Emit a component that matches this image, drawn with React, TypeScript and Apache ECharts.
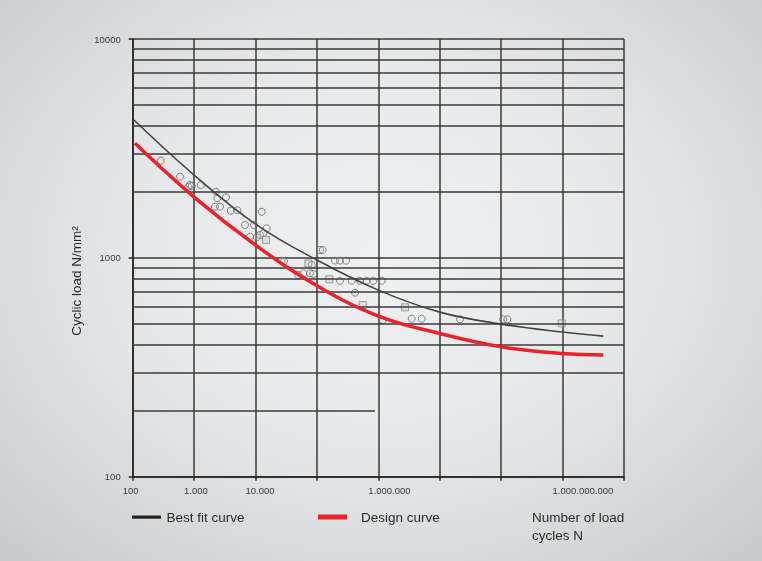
import React, { useEffect, useRef } from "react";
import * as echarts from "echarts";

// Axis ticks / labels
const xLabelValues = [100, 1000, 10000, 1000000, 1000000000];
const xLabelTexts = ["100", "1.000", "10.000", "1.000.000", "1.000.000.000"];
const yLabelValues = [100, 1000, 10000];
const yLabelTexts = ["100", "1000", "10000"];
const minorGridLoads = [300, 400, 500, 600, 700, 800, 900, 2000, 3000, 4000, 5000, 6000, 7000, 8000, 9000];
const partialGridLoad = 200;
const partialGridEndN = 880000;

// Best fit curve
const bestFitN = [105, 1000, 10000, 100000, 1000000, 10000000, 100000000, 1000000000, 4600000000];
const bestFitLoad = [4264, 2390, 1427, 977, 712, 565, 498, 458, 439];

// Design curve
const designN = [109, 1000, 10000, 100000, 1000000, 10000000, 100000000, 1000000000, 4600000000];
const designLoad = [3337, 1896, 1144, 746, 542, 451, 392, 366, 360];

// Test results (circles)
const circleN = [286, 589, 804, 857, 914, 1279, 2270, 2386, 3306, 2188, 2640, 3945, 5050, 12620, 6745, 9450, 15200, 8130, 10450, 11830, 13400, 26700, 29100, 112200, 124200, 196900, 237600, 297400, 82300, 77200, 60000, 49700, 87300, 237600, 368000, 502000, 645000, 827000, 1135000, 417000, 1178000, 3493000, 5080000, 21400000, 108000000, 126000000];
const circleLoad = [2779, 2349, 2114, 2152, 2130, 2152, 2006, 1871, 1891, 1713, 1713, 1642, 1650, 1625, 1413, 1413, 1365, 1249, 1241, 1272, 1295, 971, 964, 1086, 1086, 971, 971, 971, 928, 850, 850, 835, 844, 786, 786, 786, 786, 786, 786, 693, 520, 527, 527, 524, 524, 524];

// Test results (squares)
const squareN = [14820, 72400, 158900, 556000, 2717000, 968000000];
const squareLoad = [1207, 944, 798, 609, 594, 502];

const legendLabels = ["Best fit curve", "Design curve"];
const yAxisTitle = "Cyclic load N/mm²";
const xAxisTitle = ["Number of load", "cycles N"];

const GRID = "#3a3a3a";
const RED = "#e8232b";

function pairs(xs: number[], ys: number[]) {
  return xs.map((x, i) => [x, ys[i]]);
}

function labelFor(values: number[], texts: string[], v: number) {
  const i = values.findIndex((x) => Math.abs(Math.log10(x) - Math.log10(v)) < 1e-6);
  return i >= 0 ? texts[i] : "";
}

export default function App() {
  const ref = useRef<HTMLDivElement>(null);

  useEffect(() => {
    if (!ref.current) return;
    const chart = echarts.init(ref.current, null, { renderer: "svg" });
    const font = "'Liberation Sans', Arial, Helvetica, sans-serif";
    chart.setOption({
      animation: false,
      backgroundColor: "transparent",
      textStyle: { fontFamily: font },
      grid: { left: 132.7, top: 39, width: 491.3, height: 437.7, containLabel: false },
      xAxis: {
        type: "log",
        logBase: 10,
        min: 100,
        max: 10000000000,
        interval: 1,
        axisLine: { show: true, lineStyle: { color: "#222", width: 1.5 } },
        axisTick: { show: true, inside: false, length: 4, lineStyle: { color: "#222", width: 1.5 } },
        axisLabel: {
          show: true,
          fontSize: 9.5,
          color: "#3a3a3a",
          margin: 9,
          align: "left",
          padding: [0, 0, 0, -10],
          formatter: (v: number) => labelFor(xLabelValues, xLabelTexts, v),
        },
        splitLine: { show: true, lineStyle: { color: GRID, width: 1.5 } },
        minorTick: { show: false },
        minorSplitLine: { show: false },
      },
      yAxis: {
        type: "log",
        logBase: 10,
        min: 100,
        max: 10000,
        interval: 1,
        axisLine: { show: true, lineStyle: { color: "#222", width: 1.5 } },
        axisTick: { show: true, inside: false, length: 4, lineStyle: { color: "#222", width: 1.5 } },
        axisLabel: {
          show: true,
          fontSize: 9.5,
          color: "#3a3a3a",
          margin: 12,
          formatter: (v: number) => labelFor(yLabelValues, yLabelTexts, v),
        },
        splitLine: { show: true, lineStyle: { color: GRID, width: 1.5 } },
        minorTick: { show: false },
        minorSplitLine: { show: false },
      },
      series: [
        {
          type: "line",
          name: "grid",
          data: [],
          z: 1,
          silent: true,
          markLine: {
            silent: true,
            symbol: "none",
            label: { show: false },
            lineStyle: { color: GRID, width: 1.5, type: "solid" },
            emphasis: { disabled: true },
            data: [
              ...minorGridLoads.map((v) => ({ yAxis: v })),
              [{ coord: [100, partialGridLoad] }, { coord: [partialGridEndN, partialGridLoad] }],
            ],
          },
        },
        {
          type: "scatter",
          name: "tests",
          z: 3,
          symbol: "circle",
          symbolSize: 7,
          itemStyle: { color: "rgba(230,232,234,0.2)", borderColor: "#666", borderWidth: 1 },
          data: pairs(circleN, circleLoad),
        },
        {
          type: "scatter",
          name: "tests2",
          z: 3,
          symbol: "rect",
          symbolSize: 7,
          itemStyle: { color: "rgba(200,200,200,0.5)", borderColor: "#888", borderWidth: 1 },
          data: pairs(squareN, squareLoad),
        },
        {
          type: "line",
          name: legendLabels[0],
          z: 4,
          smooth: 0.4,
          symbol: "none",
          lineStyle: { color: "#444", width: 1.6 },
          data: pairs(bestFitN, bestFitLoad),
        },
        {
          type: "line",
          name: legendLabels[1],
          z: 5,
          smooth: 0.4,
          symbol: "none",
          lineStyle: { color: RED, width: 3.5 },
          data: pairs(designN, designLoad),
        },
      ],
      graphic: [
        {
          type: "text",
          x: 76,
          y: 281,
          rotation: Math.PI / 2,
          style: {
            text: yAxisTitle,
            fontSize: 13.5,
            fontFamily: font,
            fill: "#2a2a2a",
            align: "center",
            verticalAlign: "middle",
          },
        },
        { type: "rect", shape: { x: 132, y: 515.5, width: 29, height: 3.2 }, style: { fill: "#222" } },
        {
          type: "text",
          x: 166.5,
          y: 517.5,
          style: { text: legendLabels[0], fontSize: 13.5, fontFamily: font, fill: "#2a2a2a", verticalAlign: "middle" },
        },
        { type: "rect", shape: { x: 318, y: 514.5, width: 29, height: 5 }, style: { fill: RED } },
        {
          type: "text",
          x: 361,
          y: 517.5,
          style: { text: legendLabels[1], fontSize: 13.5, fontFamily: font, fill: "#2a2a2a", verticalAlign: "middle" },
        },
        {
          type: "text",
          x: 532,
          y: 517.5,
          style: { text: xAxisTitle[0], fontSize: 13.5, fontFamily: font, fill: "#2a2a2a", verticalAlign: "middle" },
        },
        {
          type: "text",
          x: 532,
          y: 535.5,
          style: { text: xAxisTitle[1], fontSize: 13.5, fontFamily: font, fill: "#2a2a2a", verticalAlign: "middle" },
        },
      ],
    });
    return () => chart.dispose();
  }, []);

  return (
    <div
      style={{
        position: "fixed",
        left: 0,
        top: 0,
        width: 762,
        height: 561,
        background: "radial-gradient(ellipse 70% 75% at 50% 45%, #eef0f1 0%, #e6e8ea 45%, #d4d6d8 80%, #c8cacc 100%)",
      }}
    >
      <div ref={ref} style={{ width: 762, height: 561 }} />
    </div>
  );
}
